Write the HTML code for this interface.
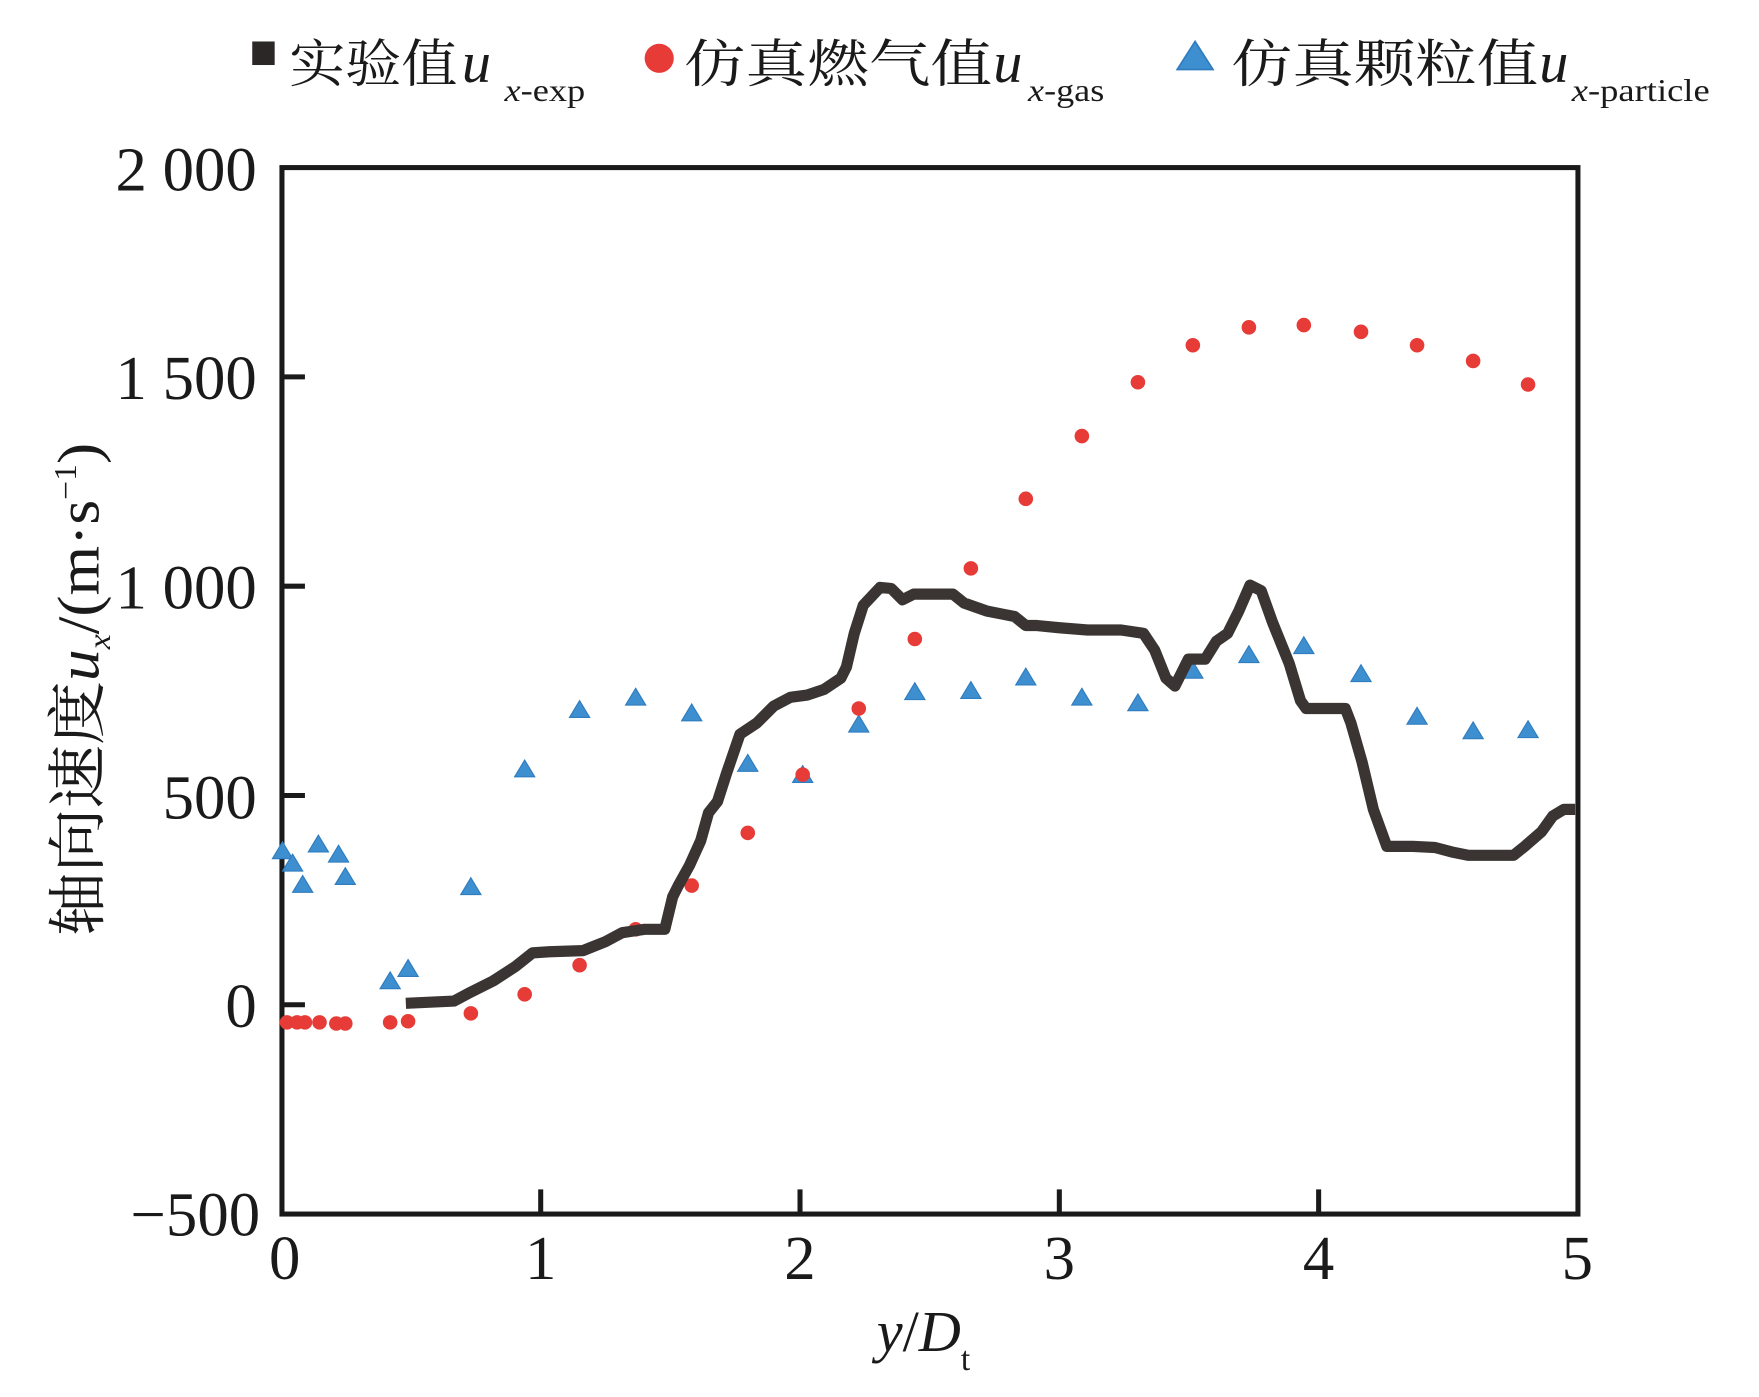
<!DOCTYPE html>
<html><head><meta charset="utf-8"><style>
html,body{margin:0;padding:0;background:#fff;}
svg{display:block;}
</style></head><body>
<svg width="1759" height="1397" viewBox="0 0 1569 1246.2" preserveAspectRatio="none" xmlns="http://www.w3.org/2000/svg">
<rect width="1569" height="1247" fill="#fff"/>
<defs>
<polygon id="tri" points="0,-9 9,6 -9,6" fill="#3d8fd0" stroke="#2f7cbf" stroke-width="1"/>
<circle id="dot" r="6.5" fill="#e63b37"/>
</defs>
<!-- legend -->
<rect x="225" y="37" width="20" height="21" fill="#2b2726"/>
<text x="258" y="73" font-family="Noto Serif CJK SC, serif" font-size="46" textLength="150" lengthAdjust="spacingAndGlyphs" fill="#1a1a1a">实验值</text>
<text x="412" y="73" font-family="Liberation Serif, serif" font-style="italic" font-size="52" fill="#1a1a1a">u</text>
<text x="450" y="90" font-family="Liberation Serif, serif" font-size="28" textLength="72" lengthAdjust="spacingAndGlyphs" fill="#1a1a1a"><tspan font-style="italic">x</tspan>-exp</text>
<circle cx="588" cy="52" r="13" fill="#e63b37"/>
<text x="610" y="73" font-family="Noto Serif CJK SC, serif" font-size="46" textLength="275" lengthAdjust="spacingAndGlyphs" fill="#1a1a1a">仿真燃气值</text>
<text x="886" y="73" font-family="Liberation Serif, serif" font-style="italic" font-size="52" fill="#1a1a1a">u</text>
<text x="917" y="90" font-family="Liberation Serif, serif" font-size="28" textLength="68" lengthAdjust="spacingAndGlyphs" fill="#1a1a1a"><tspan font-style="italic">x</tspan>-gas</text>
<polygon points="1066,37 1082,62 1050,62" fill="#3d8fd0" stroke="#2f7cbf" stroke-width="1.5"/>
<text x="1098" y="73" font-family="Noto Serif CJK SC, serif" font-size="46" textLength="274" lengthAdjust="spacingAndGlyphs" fill="#1a1a1a">仿真颗粒值</text>
<text x="1373" y="73" font-family="Liberation Serif, serif" font-style="italic" font-size="52" fill="#1a1a1a">u</text>
<text x="1402" y="90" font-family="Liberation Serif, serif" font-size="28" textLength="123" lengthAdjust="spacingAndGlyphs" fill="#1a1a1a"><tspan font-style="italic">x</tspan>-particle</text>

<!-- frame -->
<rect x="251.5" y="149.5" width="1156" height="933.5" fill="none" stroke="#1a1a1a" stroke-width="4.5"/>
<g stroke="#1a1a1a" stroke-width="4.5">
<line x1="482.3" y1="1083" x2="482.3" y2="1061"/>
<line x1="713.6" y1="1083" x2="713.6" y2="1061"/>
<line x1="944.9" y1="1083" x2="944.9" y2="1061"/>
<line x1="1176.2" y1="1083" x2="1176.2" y2="1061"/>
<line x1="251.5" y1="336.2" x2="272" y2="336.2"/>
<line x1="251.5" y1="522.9" x2="272" y2="522.9"/>
<line x1="251.5" y1="709.6" x2="272" y2="709.6"/>
<line x1="251.5" y1="896.3" x2="272" y2="896.3"/>
</g>
<g font-family="Liberation Serif, serif" font-size="56" fill="#1a1a1a" text-anchor="end">
<text x="229" y="170">2 000</text>
<text x="229" y="356">1 500</text>
<text x="229" y="543">1 000</text>
<text x="229" y="730">500</text>
<text x="229" y="916">0</text>
<text x="232" y="1102">−500</text>
</g>
<g font-family="Liberation Serif, serif" font-size="56" fill="#1a1a1a" text-anchor="middle">
<text x="254" y="1141">0</text>
<text x="482.3" y="1141">1</text>
<text x="713.6" y="1141">2</text>
<text x="944.9" y="1141">3</text>
<text x="1176.2" y="1141">4</text>
<text x="1407" y="1141">5</text>
</g>
<text x="782" y="1205" font-family="Liberation Serif, serif" font-size="52" fill="#1a1a1a"><tspan font-style="italic">y</tspan>/<tspan font-style="italic">D</tspan><tspan font-size="30" dy="17">t</tspan></text>
<text transform="translate(88,835) rotate(-90)" font-family="Liberation Serif, 'Noto Serif CJK SC', serif" font-size="53" fill="#1a1a1a" textLength="440" lengthAdjust="spacingAndGlyphs"><tspan font-family="Noto Serif CJK SC, serif">轴向速度</tspan><tspan font-style="italic">u</tspan><tspan font-size="28" font-style="italic" dy="10">x</tspan><tspan dy="-10">/(m·s</tspan><tspan font-size="28" dy="-20">−1</tspan><tspan dy="20">)</tspan></text>

<!-- blue triangles -->
<g>
<use href="#tri" x="252" y="760"/><use href="#tri" x="261" y="771"/><use href="#tri" x="270" y="790"/><use href="#tri" x="284" y="754"/><use href="#tri" x="302" y="763"/><use href="#tri" x="308" y="783"/><use href="#tri" x="348" y="876"/><use href="#tri" x="364" y="865"/><use href="#tri" x="420" y="792"/><use href="#tri" x="468" y="687"/><use href="#tri" x="517" y="634"/><use href="#tri" x="567" y="623"/><use href="#tri" x="617" y="637"/><use href="#tri" x="667" y="682"/><use href="#tri" x="716" y="692"/><use href="#tri" x="766" y="647"/><use href="#tri" x="816" y="618"/><use href="#tri" x="866" y="617"/><use href="#tri" x="915" y="605"/><use href="#tri" x="965" y="623"/><use href="#tri" x="1015" y="628"/><use href="#tri" x="1064" y="599"/><use href="#tri" x="1114" y="585"/><use href="#tri" x="1163" y="577"/><use href="#tri" x="1214" y="602"/><use href="#tri" x="1264" y="640"/><use href="#tri" x="1314" y="653"/><use href="#tri" x="1363" y="652"/>
</g>
<!-- red dots -->
<g>
<use href="#dot" x="256" y="912"/><use href="#dot" x="265" y="912"/><use href="#dot" x="272" y="912"/><use href="#dot" x="285" y="912"/><use href="#dot" x="300" y="913"/><use href="#dot" x="308" y="913"/><use href="#dot" x="348" y="912"/><use href="#dot" x="364" y="911"/><use href="#dot" x="420" y="904"/><use href="#dot" x="468" y="887"/><use href="#dot" x="517" y="861"/><use href="#dot" x="567" y="829"/><use href="#dot" x="617" y="790"/><use href="#dot" x="667" y="743"/><use href="#dot" x="716" y="691"/><use href="#dot" x="766" y="632"/><use href="#dot" x="816" y="570"/><use href="#dot" x="866" y="507"/><use href="#dot" x="915" y="445"/><use href="#dot" x="965" y="389"/><use href="#dot" x="1015" y="341"/><use href="#dot" x="1064" y="308"/><use href="#dot" x="1114" y="292"/><use href="#dot" x="1163" y="290"/><use href="#dot" x="1214" y="296"/><use href="#dot" x="1264" y="308"/><use href="#dot" x="1314" y="322"/><use href="#dot" x="1363" y="343"/>
</g>
<!-- experimental line -->
<polyline fill="none" stroke="#3a3533" stroke-width="10" stroke-linejoin="round" points="362,895 405,893 420,885 440,875 460,862 475,850 490,849 520,848 540,840 555,832 575,829 593,829 600,800 605,790 615,772 625,750 632,725 640,715 648,690 660,655 675,645 690,630 705,622 720,620 735,615 750,605 755,595 762,565 770,540 785,524 795,525 805,535 815,530 825,530 850,530 860,538 880,545 895,548 905,550 915,558 925,558 945,560 970,562 1000,562 1020,565 1030,580 1040,605 1048,612 1055,598 1060,588 1075,588 1085,572 1095,565 1105,545 1115,522 1125,527 1135,555 1150,592 1160,625 1165,632 1190,632 1200,632 1205,645 1215,680 1225,722 1237,755 1260,755 1280,756 1295,760 1310,763 1350,763 1360,755 1375,742 1385,728 1395,722 1405,722"/>
</svg>
</body></html>
